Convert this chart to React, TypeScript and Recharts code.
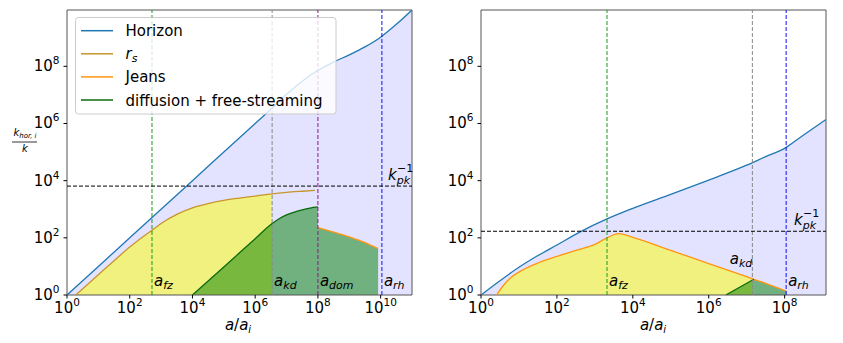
import React from "react";
import { ComposedChart, Area, Line, XAxis, YAxis, ReferenceLine, ReferenceArea } from "recharts";

const FONT = "DejaVu Sans, sans-serif";

// every value below is log10 of what the figure plots (both axes are log scaled)

// left panel
const leftHorizonX = [0, 1, 2, 3, 4, 5, 6, 6.5, 7, 7.5, 8, 8.5, 9, 9.5, 10, 10.5, 11];
const leftHorizonY = [0, 1, 2, 3, 4, 5, 6, 6.5, 7.02, 7.48, 7.86, 8.15, 8.4, 8.68, 9.02, 9.47, 9.97];
const leftRsX = [0.28, 1, 1.5, 2, 2.5, 2.71, 3, 3.5, 4, 4.5, 5, 5.5, 6, 6.54, 7, 7.5, 7.91];
const leftRsY = [0, 0.71, 1.2, 1.68, 2.1, 2.26, 2.5, 2.82, 3.05, 3.2, 3.31, 3.39, 3.46, 3.54, 3.59, 3.63, 3.66];
const leftDiffX = [4, 5, 6, 6.54, 6.75, 7, 7.25, 7.5, 7.75, 8];
const leftDiffY = [0, 0.98, 1.97, 2.5, 2.66, 2.8, 2.9, 2.98, 3.04, 3.08];
const leftJeansX = [8, 8.5, 9, 9.5, 9.92];
const leftJeansY = [2.36, 2.2, 2.03, 1.83, 1.62];
const leftTimes = { fz: 2.71, kd: 6.54, dom: 8.0, rh: 10.04 };
const leftKpk = 3.81;
const leftXTicks = [0, 2, 4, 6, 8, 10];

// right panel
const rightHorizonX = [0, 0.5, 1, 1.5, 2, 2.6, 3.32, 4, 5, 6, 7, 7.5, 8, 8.5, 9.09];
const rightHorizonY = [0, 0.5, 0.97, 1.38, 1.75, 2.2, 2.66, 3.03, 3.52, 4.02, 4.54, 4.84, 5.13, 5.6, 6.14];
const rightJeansX = [0.41, 0.6, 0.8, 1, 1.5, 2, 2.5, 3, 3.32, 3.62, 4, 5, 6, 7, 7.15, 7.19, 7.5, 8.04];
const rightJeansY = [0, 0.35, 0.62, 0.8, 1.12, 1.35, 1.56, 1.77, 2.0, 2.15, 2.02, 1.56, 1.1, 0.64, 0.57, 0.55, 0.41, 0.14];
const rightDiffX = [6.45, 7.19];
const rightDiffY = [0, 0.55];
const rightTimes = { fz: 3.32, kd: 7.15, rh: 8.04 };
const rightKpk = 2.23;
const rightXTicks = [0, 2, 4, 6, 8];

const yTicks = [0, 2, 4, 6, 8];
const Y_TOP = 9.97;

const C = {
  horizon: "#1f77b4",
  rs: "#c8952d",
  jeans: "#ff9510",
  diff: "#0b6b0b",
};

const pts = (xs: number[], ys: number[]) => xs.map((x, i) => ({ x, y: ys[i] }));
const upTo = (xs: number[], ys: number[], max: number) =>
  pts(xs, ys).filter((p) => p.x <= max + 1e-9);
const from = (xs: number[], ys: number[], min: number) =>
  pts(xs, ys).filter((p) => p.x >= min - 1e-9);

const XTick = ({ x, y, payload }: any) => (
  <text x={x} y={y + 11} textAnchor="middle" fontFamily={FONT} fontSize={15} fill="#000">
    10<tspan dy={-7} fontSize={10.5}>{payload.value}</tspan>
  </text>
);

const YTick = ({ x, y, payload }: any) => (
  <text x={x - 1} y={y + 5} textAnchor="end" fontFamily={FONT} fontSize={15} fill="#000">
    10<tspan dy={-7} fontSize={10.5}>{payload.value}</tspan>
  </text>
);

const timeLabel =
  (sub: string, dx: number, dy: number, anchor: string = "start") =>
  (p: any) => {
    const vb = p.viewBox || {};
    return (
      <text
        x={vb.x + dx}
        y={vb.y + vb.height + dy}
        textAnchor={anchor}
        fontFamily={FONT}
        fontSize={15}
        fill="#000"
      >
        <tspan fontStyle="italic">a</tspan>
        <tspan fontStyle="italic" fontSize={11} dy={3}>
          {sub}
        </tspan>
      </text>
    );
  };

const kpkLabel = (dx: number) => (p: any) => {
  const vb = p.viewBox || {};
  return (
    <text x={vb.x + vb.width + dx} y={vb.y - 6} fontFamily={FONT} fontSize={15} fill="#000">
      <tspan fontStyle="italic">k</tspan>
      <tspan fontStyle="italic" fontSize={11} dy={4}>
        pk
      </tspan>
      <tspan fontSize={11} dx={-13} dy={-12}>
        −1
      </tspan>
    </text>
  );
};

const dash = { strokeDasharray: "4 2", strokeWidth: 1 };

function LeftPanel() {
  return (
    <ComposedChart width={420} height={343} margin={{ top: 10, right: 8, bottom: 18, left: 0 }}>
      <XAxis
        type="number"
        dataKey="x"
        domain={[0, 11]}
        ticks={leftXTicks}
        allowDataOverflow
        axisLine={false}
        tickSize={3.5}
        tickMargin={3}
        tickLine={{ stroke: "#000" }}
        tick={<XTick />}
        height={30}
      />
      <YAxis
        type="number"
        domain={[0, Y_TOP]}
        ticks={yTicks}
        allowDataOverflow
        axisLine={false}
        tickSize={3.5}
        tickMargin={3}
        tickLine={{ stroke: "#000" }}
        tick={<YTick />}
        width={67}
      />
      <Area
        data={pts(leftHorizonX, leftHorizonY)}
        dataKey="y"
        type="monotone"
        stroke="none"
        fill="#0000ff"
        fillOpacity={0.11}
        isAnimationActive={false}
      />
      <Area
        data={upTo(leftRsX, leftRsY, leftTimes.kd)}
        dataKey="y"
        type="monotone"
        stroke="none"
        fill="#ffff00"
        fillOpacity={0.5}
        isAnimationActive={false}
      />
      <Area
        data={pts(leftDiffX, leftDiffY)}
        dataKey="y"
        type="monotone"
        stroke="none"
        fill="#008000"
        fillOpacity={0.5}
        isAnimationActive={false}
      />
      <Area
        data={pts(leftJeansX, leftJeansY)}
        dataKey="y"
        type="monotone"
        stroke="none"
        fill="#008000"
        fillOpacity={0.5}
        isAnimationActive={false}
      />
      <Line data={pts(leftHorizonX, leftHorizonY)} dataKey="y" type="monotone" stroke={C.horizon} strokeWidth={1.3} dot={false} isAnimationActive={false} />
      <Line data={pts(leftRsX, leftRsY)} dataKey="y" type="monotone" stroke={C.rs} strokeWidth={1.3} dot={false} isAnimationActive={false} />
      <Line data={pts(leftDiffX, leftDiffY)} dataKey="y" type="monotone" stroke={C.diff} strokeWidth={1.3} dot={false} isAnimationActive={false} />
      <Line data={pts(leftJeansX, leftJeansY)} dataKey="y" type="monotone" stroke={C.jeans} strokeWidth={1.3} dot={false} isAnimationActive={false} />
      <ReferenceLine x={leftTimes.fz} stroke="#1a9a1a" {...dash} label={timeLabel("fz", 2, -9)} />
      <ReferenceLine x={leftTimes.kd} stroke="#888888" {...dash} label={timeLabel("kd", 2, -9)} />
      <ReferenceLine x={leftTimes.dom} stroke="#8a158a" {...dash} label={timeLabel("dom", 2, -9)} />
      <ReferenceLine x={leftTimes.rh} stroke="#1010f0" {...dash} label={timeLabel("rh", 2, -9)} />
      <ReferenceLine y={leftKpk} stroke="#000" {...dash} label={kpkLabel(-24)} />
      <ReferenceArea x1={0} x2={11} y1={0} y2={Y_TOP} fill="none" stroke="#555" strokeWidth={1} />
    </ComposedChart>
  );
}

function RightPanel() {
  return (
    <ComposedChart width={423} height={343} margin={{ top: 10, right: 17, bottom: 18, left: 0 }}>
      <XAxis
        type="number"
        dataKey="x"
        domain={[0, 9.09]}
        ticks={rightXTicks}
        allowDataOverflow
        axisLine={false}
        tickSize={3.5}
        tickMargin={3}
        tickLine={{ stroke: "#000" }}
        tick={<XTick />}
        height={30}
      />
      <YAxis
        type="number"
        domain={[0, Y_TOP]}
        ticks={yTicks}
        allowDataOverflow
        axisLine={false}
        tickSize={3.5}
        tickMargin={3}
        tickLine={{ stroke: "#000" }}
        tick={<YTick />}
        width={61}
      />
      <Area
        data={pts(rightHorizonX, rightHorizonY)}
        dataKey="y"
        type="monotone"
        stroke="none"
        fill="#0000ff"
        fillOpacity={0.11}
        isAnimationActive={false}
      />
      <Area
        data={upTo(rightJeansX, rightJeansY, rightTimes.kd)}
        dataKey="y"
        type="monotone"
        stroke="none"
        fill="#ffff00"
        fillOpacity={0.5}
        isAnimationActive={false}
      />
      <Area
        data={[...pts(rightDiffX, rightDiffY), ...from(rightJeansX, rightJeansY, 7.5)]}
        dataKey="y"
        type="linear"
        stroke="none"
        fill="#008000"
        fillOpacity={0.5}
        isAnimationActive={false}
      />
      <Line data={pts(rightHorizonX, rightHorizonY)} dataKey="y" type="monotone" stroke={C.horizon} strokeWidth={1.3} dot={false} isAnimationActive={false} />
      <Line data={pts(rightJeansX, rightJeansY)} dataKey="y" type="monotone" stroke={C.jeans} strokeWidth={1.3} dot={false} isAnimationActive={false} />
      <Line data={pts(rightDiffX, rightDiffY)} dataKey="y" type="linear" stroke={C.diff} strokeWidth={1.3} dot={false} isAnimationActive={false} />
      <ReferenceLine x={rightTimes.fz} stroke="#1a9a1a" {...dash} label={timeLabel("fz", 2, -9)} />
      <ReferenceLine x={rightTimes.kd} stroke="#888888" {...dash} label={timeLabel("kd", 0, -31, "end")} />
      <ReferenceLine x={rightTimes.rh} stroke="#1010f0" {...dash} label={timeLabel("rh", 2, -9)} />
      <ReferenceLine y={rightKpk} stroke="#000" {...dash} label={kpkLabel(-32)} />
      <ReferenceArea x1={0} x2={9.09} y1={0} y2={Y_TOP} fill="none" stroke="#555" strokeWidth={1} />
    </ComposedChart>
  );
}

const legendItems = [
  { color: C.horizon, label: "Horizon" },
  { color: C.rs, label: "rs" },
  { color: C.jeans, label: "Jeans" },
  { color: C.diff, label: "diffusion + free-streaming" },
];

function Overlay() {
  const rowY = (i: number) => 30.7 + i * 23.1;
  return (
    <svg
      width={843}
      height={343}
      style={{ position: "absolute", left: 0, top: 0, pointerEvents: "none" }}
      fontFamily={FONT}
    >
      <rect x={75.5} y={17.5} width={260.5} height={96.5} rx={3} fill="#fff" fillOpacity={0.8} stroke="#cccccc" />
      {legendItems.map((it, i) => (
        <g key={it.label}>
          <line x1={81} x2={113} y1={rowY(i)} y2={rowY(i)} stroke={it.color} strokeWidth={1.5} />
          <text x={125.5} y={rowY(i) + 5.5} fontSize={15} fill="#000">
            {it.label === "rs" ? (
              <>
                <tspan fontStyle="italic">r</tspan>
                <tspan fontStyle="italic" fontSize={11} dy={3}>
                  s
                </tspan>
              </>
            ) : (
              it.label
            )}
          </text>
        </g>
      ))}
      {/* y axis title */}
      <text x={25} y={136} textAnchor="middle" fontSize={10} fill="#000">
        <tspan fontStyle="italic">k</tspan>
        <tspan fontStyle="italic" fontSize={7} dy={2}>
          hor, i
        </tspan>
      </text>
      <line x1={12} x2={37} y1={142} y2={142} stroke="#000" strokeWidth={0.8} />
      <text x={25} y={152} textAnchor="middle" fontSize={10} fontStyle="italic" fill="#000">
        k
      </text>
      {/* x axis titles */}
      {[238, 653].map((cx) => (
        <text key={cx} x={cx} y={330} textAnchor="middle" fontSize={15} fill="#000">
          <tspan fontStyle="italic">a</tspan>/<tspan fontStyle="italic">a</tspan>
          <tspan fontStyle="italic" fontSize={10} dy={3}>
            i
          </tspan>
        </text>
      ))}
    </svg>
  );
}

export default function App() {
  return (
    <div style={{ position: "absolute", left: 0, top: 0, width: 843, height: 343, background: "#fff", fontFamily: FONT }}>
      <div style={{ position: "absolute", left: 0, top: 0 }}>
        <LeftPanel />
      </div>
      <div style={{ position: "absolute", left: 420, top: 0 }}>
        <RightPanel />
      </div>
      <Overlay />
    </div>
  );
}
